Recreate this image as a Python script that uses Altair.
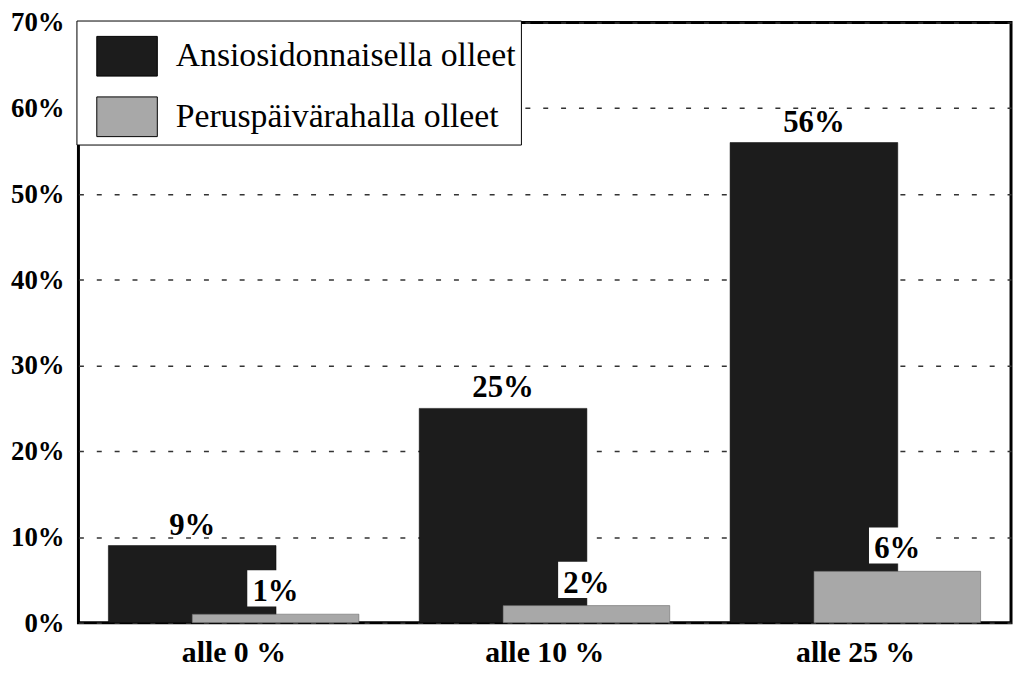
import altair as alt
import pandas as pd

categories = ["alle 0 %", "alle 10 %", "alle 25 %"]
series_names = ["Ansiosidonnaisella olleet", "Peruspäivärahalla olleet"]
ansio_values = [9, 25, 56]
perus_values = [1, 2, 6]
y_ticks = [0, 10, 20, 30, 40, 50, 60, 70]
y_tick_labels = ["0%", "10%", "20%", "30%", "40%", "50%", "60%", "70%"]
colors = ["#1c1c1c", "#a8a8a8"]

rows = []
for c, v in zip(categories, ansio_values):
    rows.append({"cat": c, "series": series_names[0], "value": v, "label": f"{v}%"})
for c, v in zip(categories, perus_values):
    rows.append({"cat": c, "series": series_names[1], "value": v, "label": f"{v}%"})
df = pd.DataFrame(rows)
ticks_df = pd.DataFrame({"value": y_ticks, "label": y_tick_labels})
cats_df = pd.DataFrame({"cat": categories})

FONT = "Liberation Serif, Times New Roman, serif"

x_enc = alt.X("cat:N", sort=categories, title=None,
              scale=alt.Scale(paddingInner=0, paddingOuter=0),
              axis=alt.Axis(labels=False, domain=False, ticks=False, grid=False))
y_enc = alt.Y("value:Q", title=None,
              scale=alt.Scale(domain=[0, 70], nice=False, zero=True),
              axis=alt.Axis(values=y_ticks, labels=False, domain=False, ticks=False,
                            grid=True, gridDash=[5, 13], gridColor="#333333", gridWidth=1.5))
color_enc = alt.Color("series:N", sort=series_names, title=None,
                      scale=alt.Scale(domain=series_names, range=colors),
                      legend=alt.Legend(orient="none", legendX=-2, legendY=-2,
                                        fillColor="white", strokeColor="black",
                                        padding=5, symbolOffset=15, labelOffset=18,
                                        rowPadding=7, labelLimit=600,
                                        labelFont=FONT, labelFontSize=34,
                                        labelFontWeight="normal", labelColor="black",
                                        symbolType="M-1,-0.656L1,-0.656L1,0.656L-1,0.656Z",
                                        symbolSize=3721, symbolStrokeColor="black",
                                        symbolStrokeWidth=1, symbolOpacity=1))

base = alt.Chart(df)

dark = base.transform_filter(alt.datum.series == series_names[0]).mark_bar(
    size=169, xOffset=-42, stroke="black", strokeWidth=0.5
).encode(x=x_enc, y=y_enc, color=color_enc)

light = base.transform_filter(alt.datum.series == series_names[1]).mark_bar(
    size=168, xOffset=42, stroke="#555555", strokeWidth=0.5
).encode(x=x_enc, y=y_enc, color=color_enc)

dark_text = base.transform_filter(alt.datum.series == series_names[0]).mark_text(
    xOffset=-42, dy=-11, baseline="alphabetic", font=FONT, fontSize=31,
    fontWeight="bold", color="black"
).encode(x=x_enc, y=y_enc, text="label:N")

light_box = base.transform_filter(alt.datum.series == series_names[1]).mark_point(
    shape="M-1,-0.64L1,-0.64L1,0.64L-1,0.64Z", size=3249, filled=True,
    color="white", opacity=1, xOffset=42, yOffset=-26
).encode(x=x_enc, y=y_enc)

light_text = base.transform_filter(alt.datum.series == series_names[1]).mark_text(
    xOffset=42, dy=-13, baseline="alphabetic", font=FONT, fontSize=31,
    fontWeight="bold", color="black"
).encode(x=x_enc, y=y_enc, text="label:N")

y_labels = alt.Chart(ticks_df).mark_text(
    align="right", baseline="middle", dy=1, font=FONT, fontSize=27,
    fontWeight="bold", color="black"
).encode(x=alt.value(-14), y=y_enc, text="label:N")

x_labels = alt.Chart(cats_df).mark_text(
    align="center", baseline="alphabetic", font=FONT, fontSize=30,
    fontWeight="bold", color="black"
).encode(x=x_enc, y=alt.value(645), text="cat:N")

chart = alt.layer(dark, light, dark_text, light_box, light_text, y_labels, x_labels).properties(
    width=940, height=605,
    autosize=alt.AutoSizeParams(type="none"),
    padding={"left": 71, "top": 12, "right": 3, "bottom": 45},
    background="white",
).configure_view(stroke="black", strokeWidth=3)

chart.save("out.html", embed_options={"renderer": "svg", "actions": False})
